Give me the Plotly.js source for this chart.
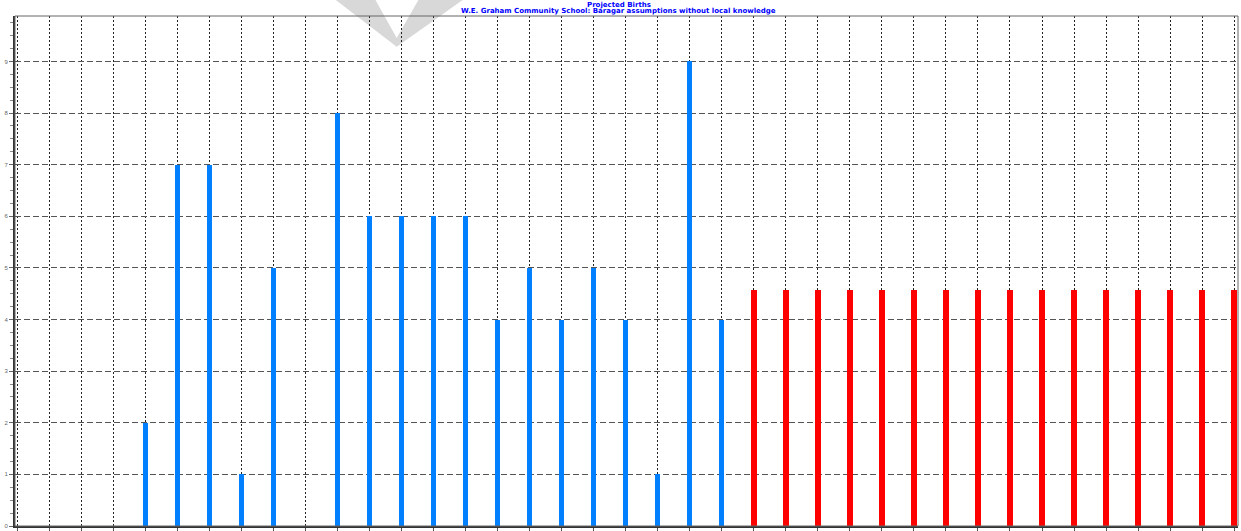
<!DOCTYPE html>
<html><head><meta charset="utf-8">
<script src="https://cdn.plot.ly/plotly-3.0.1.min.js"></script>
<style>html,body{margin:0;padding:0;background:#fff;}#chart{width:1241px;height:531px;}</style>
</head><body><div id="chart"></div>
<script>
const years = ["90","91","92","93","94","95","96","97","98","99","00","01","02","03","04","05","06","07","08","09","10","11","12","13","14","15","16","17","18","19","20","21","22","23","24","25","26","27","28"];
const actualYears = years.slice(0, 23);
const actualBirths = [0,0,0,0,2,7,7,1,5,0,8,6,6,6,6,4,5,4,5,4,1,9,4];
const projYears = years.slice(23);
const projBirths = [4.57,4.57,4.57,4.57,4.57,4.57,4.57,4.57,4.57,4.57,4.57,4.57,4.57,4.57,4.57,4.57];
const titleLine1 = 'Projected Births';
const titleLine2 = 'W.E. Graham Community School: Baragar assumptions without local knowledge';

const traces = [
  {type:'bar', x: actualYears, y: actualBirths, width: 0.15, marker:{color:'#0080ff'}, hoverinfo:'x+y'},
  {type:'bar', x: projYears, y: projBirths, width: 0.19, marker:{color:'#ff0000'}, hoverinfo:'x+y'}
];
const tfont = {family:'DejaVu Sans', size:7, color:'#0000ff', weight:'bold'};
const layout = {
  width:1241, height:531,
  margin:{l:15, r:3, t:16, b:5},
  paper_bgcolor:'#fff', plot_bgcolor:'#fff',
  showlegend:false,
  bargap:0,
  barmode:'overlay',
  annotations:[
    {text:'<b>'+titleLine1+'</b>', xref:'paper', yref:'paper', x:0.4935, y:1.0225, xanchor:'center', yanchor:'middle', showarrow:false, font:tfont},
    {text:'<b>'+titleLine2+'</b>', xref:'paper', yref:'paper', x:0.4935, y:1.0105, xanchor:'center', yanchor:'middle', showarrow:false, font:tfont}
  ],
  xaxis:{type:'category', categoryorder:'array', categoryarray: years,
    range:[-0.07, 38.12], showgrid:true, griddash:'2px,2px', gridcolor:'#222', gridwidth:1,
    ticks:'outside', ticklen:3, tickcolor:'#555', tickfont:{size:7, color:'#666', family:'Liberation Sans, Arial'},
    showline:true, linecolor:'#333', linewidth:2, zeroline:false, fixedrange:true},
  yaxis:{range:[0, 9.88], dtick:1, tick0:0, showgrid:true, griddash:'6px,3px', gridcolor:'#555', gridwidth:1,
    ticks:'outside', ticklen:4, tickcolor:'#666', tickfont:{size:6, color:'#666', family:'Liberation Sans, Arial'},
    minor:{dtick:0.25, ticks:'outside', ticklen:3, tickcolor:'#888', showgrid:false},
    showline:true, linecolor:'#333', linewidth:2, zeroline:false, fixedrange:true},
  shapes:[
    {type:'rect', xref:'paper', yref:'paper', x0:0, x1:1, y0:0, y1:1, line:{color:'#666', width:1}, layer:'above'},
    {type:'path', xref:'paper', yref:'paper', layer:'below', fillcolor:'#d8d8d8', line:{width:0},
     path:'M 0.2617 1.0325 L 0.2945 1.0325 L 0.3121 0.957 L 0.3301 1.0325 L 0.3667 1.0325 L 0.3121 0.9395 Z'}
  ]
};
Plotly.newPlot('chart', traces, layout, {displayModeBar:false, staticPlot:true});
</script></body></html>
